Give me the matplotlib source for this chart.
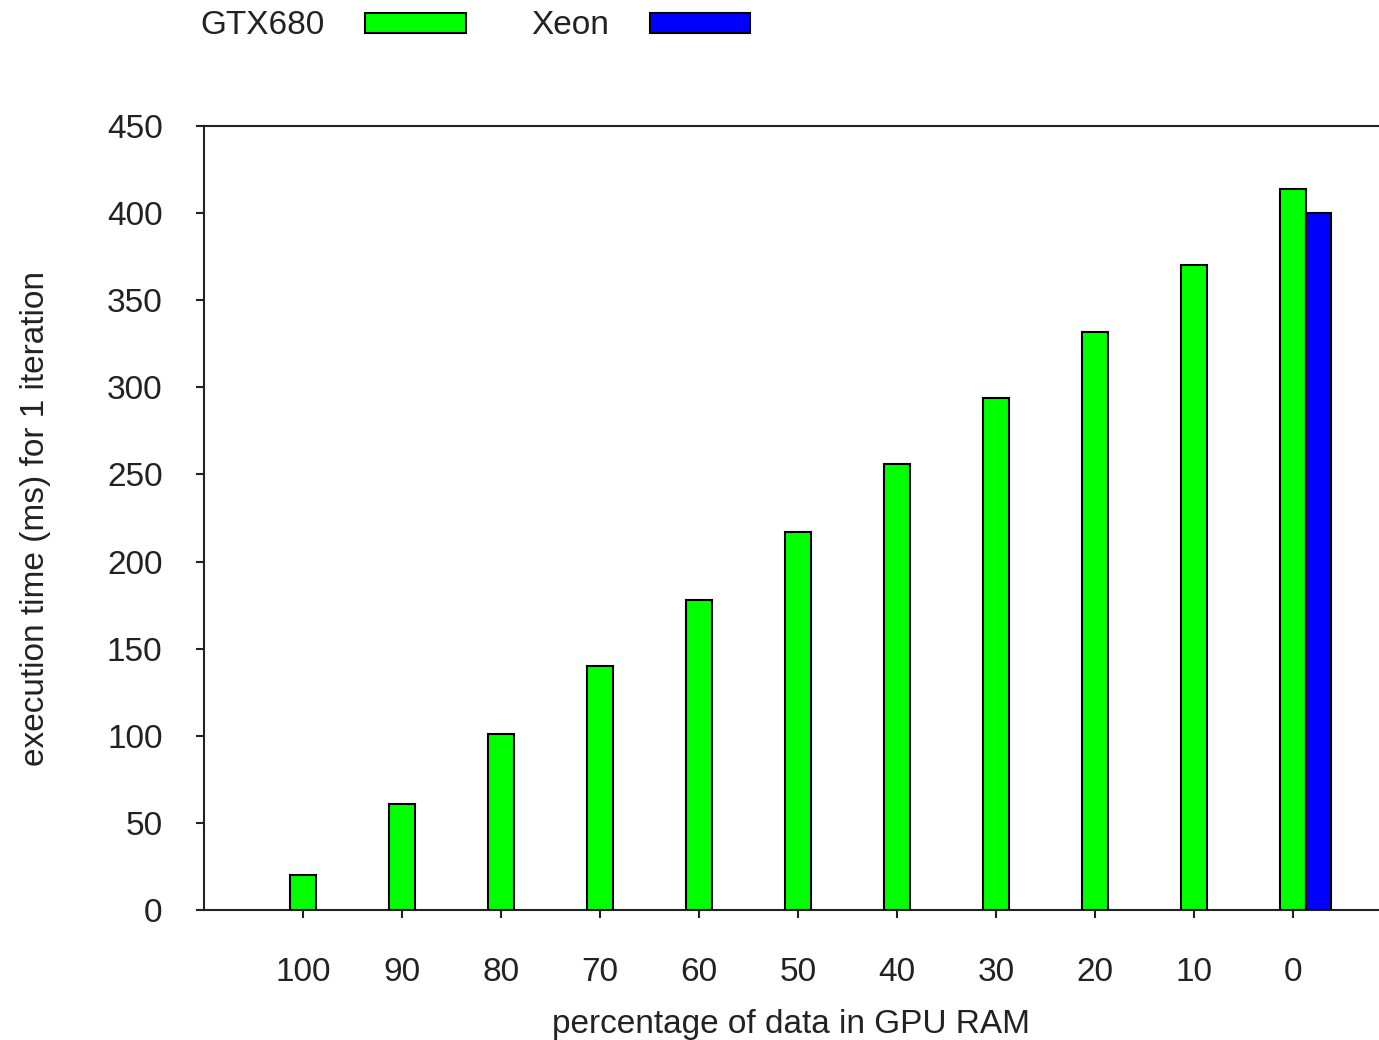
import matplotlib.pyplot as plt
import numpy as np

plt.rcParams['font.family'] = ['Liberation Sans', 'DejaVu Sans']

pct_labels = ['100', '90', '80', '70', '60', '50', '40', '30', '20', '10', '0']
gtx680_ms = [20, 61, 101, 140, 178, 217, 256, 294, 332, 370, 414]
xeon_labels = ['0']
xeon_ms = [400]

text_col = '#222222'
fs = 24

fig = plt.figure(figsize=(13.79, 10.4), dpi=100)
ax = fig.add_axes([0.1479, 0.125, 0.8521, 0.7538])

x = np.arange(len(pct_labels))
w = 0.26
ax.bar(x, gtx680_ms, width=w, color='#00ff00', edgecolor='black', linewidth=1.5,
       label='GTX680', zorder=3)
# Xeon bar sits right next to the GPU bar of the same group
xeon_x = [pct_labels.index(l) + w for l in xeon_labels]
ax.bar(xeon_x, xeon_ms, width=w, color='#0000ff', edgecolor='black', linewidth=1.5,
       label='Xeon', zorder=3)

ax.set_xlim(-1, 10.87)
ax.set_ylim(0, 450)
ax.set_yticks(np.arange(0, 451, 50))
ax.set_xticks(x)
ax.set_xticklabels(pct_labels)

for s in ['top', 'left', 'bottom']:
    ax.spines[s].set_linewidth(1.5)
    ax.spines[s].set_color('#222222')
ax.spines['right'].set_visible(False)
ax.tick_params(axis='both', direction='out', length=5.8, width=1.5, colors='#222222',
               labelsize=fs, labelcolor=text_col)
ax.tick_params(axis='x', pad=28)
ax.tick_params(axis='y', pad=24)

ax.set_xlabel('percentage of data in GPU RAM', fontsize=fs, color=text_col, labelpad=15)
ax.set_ylabel('execution time (ms) for 1 iteration', fontsize=fs, color=text_col, labelpad=40)

fig.legend(loc='center left', bbox_to_anchor=(0.145, 0.975), ncol=2, frameon=False,
           markerfirst=False, fontsize=fs, handlelength=3.02, handleheight=0.54,
           handletextpad=1.23, columnspacing=1.95, borderpad=0, borderaxespad=0,
           labelcolor=text_col)

fig.savefig('out.png', dpi=100)
